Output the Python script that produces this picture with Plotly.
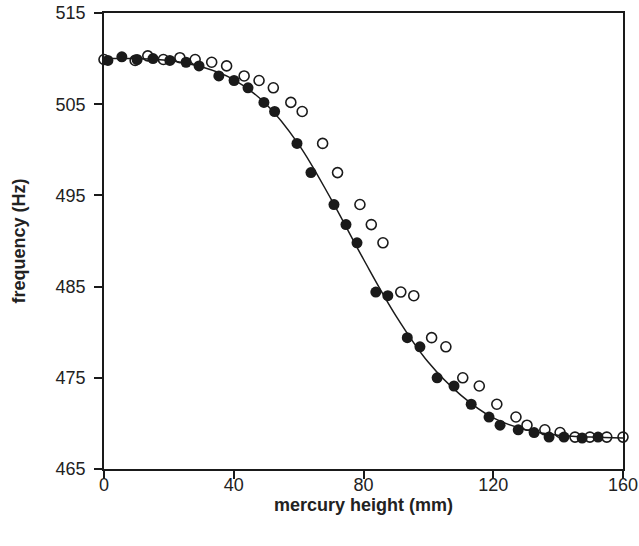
import plotly.graph_objects as go

# Filled circles (measured series)
filled_x = [1.2, 5.5, 10.2, 15.1, 20.3, 25.3, 29.3, 35.4, 40.1, 44.4, 49.3, 52.6,
            59.5, 63.8, 70.9, 74.6, 78.0, 83.8, 87.5, 93.5, 97.4, 102.7, 107.9,
            113.2, 118.7, 122.1, 127.7, 132.6, 137.2, 141.8, 147.4, 152.3]
filled_y = [509.8, 510.2, 509.9, 510.0, 509.8, 509.6, 509.2, 508.1, 507.6, 506.8,
            505.2, 504.2, 500.7, 497.5, 494.0, 491.8, 489.8, 484.4, 484.0, 479.4,
            478.4, 475.0, 474.1, 472.1, 470.7, 469.8, 469.3, 469.0, 468.5, 468.5,
            468.4, 468.5]

# Open circles
open_x = [0.0, 9.6, 13.5, 18.3, 23.4, 28.1, 33.2, 37.8, 43.2, 47.8, 52.2, 57.6,
          61.1, 67.4, 72.0, 78.9, 82.4, 86.0, 91.5, 95.5, 101.0, 105.4, 110.6,
          115.7, 121.1, 127.0, 130.4, 135.9, 140.6, 145.2, 149.8, 155.0, 160.0]
open_y = [509.9, 509.8, 510.3, 509.9, 510.1, 509.9, 509.6, 509.2, 508.1, 507.6,
          506.8, 505.2, 504.2, 500.7, 497.5, 494.0, 491.8, 489.8, 484.4, 484.0,
          479.4, 478.4, 475.0, 474.1, 472.1, 470.7, 469.8, 469.3, 469.0, 468.5,
          468.5, 468.5, 468.5]

# Fitted curve
curve_x = [0, 10, 20, 30, 40, 50, 60, 70, 80, 90, 100, 110, 120, 130, 140, 150, 160]
curve_y = [510.0, 510.0, 509.8, 509.1, 507.7, 505.0, 500.6, 494.6, 488.0, 481.8,
           476.7, 473.1, 470.6, 469.3, 468.7, 468.5, 468.4]

x_ticks = [0, 40, 80, 120, 160]
y_ticks = [465, 475, 485, 495, 505, 515]

ink = "#1a1a1a"
text_col = "#222222"
font_family = "Liberation Sans, Arial, sans-serif"

fig = go.Figure()
fig.add_trace(go.Scatter(
    x=open_x, y=open_y, mode="markers",
    marker=dict(symbol="circle-open", size=10, color=ink, line=dict(width=1.6, color=ink)),
    showlegend=False, cliponaxis=False))
fig.add_trace(go.Scatter(
    x=curve_x, y=curve_y, mode="lines",
    line=dict(color=ink, width=1.5, shape="spline", smoothing=1.0),
    showlegend=False))
fig.add_trace(go.Scatter(
    x=filled_x, y=filled_y, mode="markers",
    marker=dict(symbol="circle", size=11, color=ink, line=dict(width=0)),
    showlegend=False, cliponaxis=False))

axis_common = dict(
    showgrid=False, zeroline=False, showline=True, linecolor=ink, linewidth=1.5,
    mirror=True, ticks="outside", ticklen=8, tickwidth=1.5, tickcolor=ink,
    tickfont=dict(family=font_family, size=18, color=text_col), automargin=False,
    ticklabeloverflow="allow",
)

fig.update_layout(
    width=639, height=546,
    margin=dict(l=104, r=16, t=13, b=77),
    paper_bgcolor="white", plot_bgcolor="white",
    xaxis=dict(range=[0, 160], tickvals=x_ticks, ticktext=[str(v) for v in x_ticks],
               ticklabelstandoff=-9,
               title=dict(text="<b>mercury height (mm)</b>", standoff=3,
                          font=dict(family=font_family, size=18, color=text_col)),
               **axis_common),
    yaxis=dict(range=[465, 515], tickvals=y_ticks, ticktext=[str(v) for v in y_ticks],
               ticklabelstandoff=5,
               title=dict(text="<b>frequency (Hz)</b>", standoff=25,
                          font=dict(family=font_family, size=18, color=text_col)),
               **axis_common),
)

# remove the default 8px page margin so the figure fills the window exactly
fig.write_html("out.html", config={"displayModeBar": False},
               post_script="document.body.style.margin='0';")
